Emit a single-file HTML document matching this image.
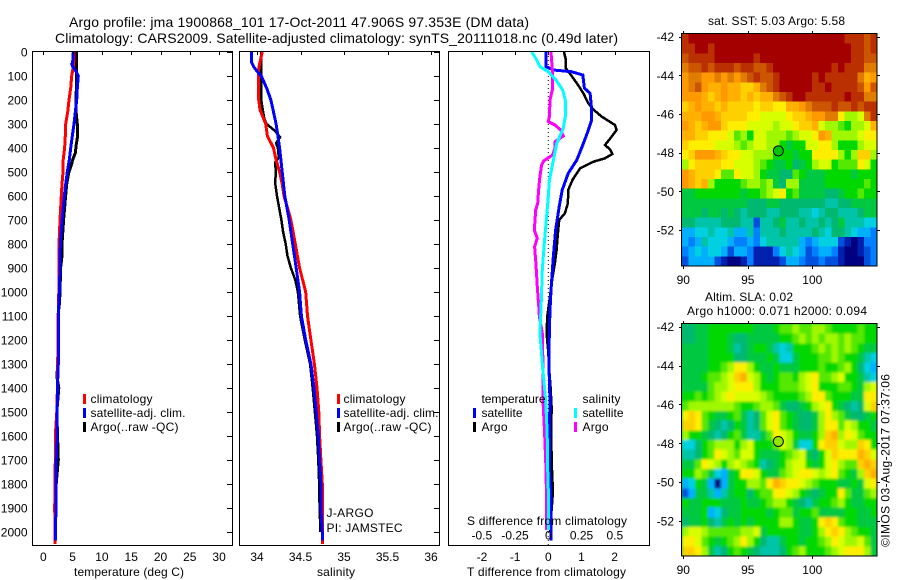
<!DOCTYPE html>
<html>
<head>
<meta charset="utf-8">
<title>Argo profile chart</title>
<style>
html,body{margin:0;padding:0;background:#fff;}
svg{display:block;}
text{font-family:"Liberation Sans",sans-serif;fill:#000;font-size:12px;}
.t14{font-size:14px;}
.mark{fill:none;stroke-width:3;stroke-linejoin:miter;shape-rendering:crispEdges;}
.crisp{shape-rendering:crispEdges;}
</style>
</head>
<body>
<svg id="chart" xmlns="http://www.w3.org/2000/svg" width="900" height="580" viewBox="0 0 900 580">
  <defs>
    <clipPath id="clip-sst"><rect x="682" y="34" width="195" height="232"/></clipPath>
    <clipPath id="clip-sla"><rect x="682" y="324" width="195" height="232"/></clipPath>
    <filter id="soft" x="-5%" y="-5%" width="110%" height="110%"><feGaussianBlur stdDeviation="1.4"/></filter>
  </defs>
  <rect x="0" y="0" width="900" height="580" fill="#fff"/>

  <text class="t14" x="69" y="27" textLength="460">Argo profile: jma 1900868_101 17-Oct-2011 47.906S 97.353E (DM data)</text>
  <text class="t14" x="55" y="43" textLength="563">Climatology: CARS2009. Satellite-adjusted climatology: synTS_20111018.nc (0.49d later)</text>

  <g id="marks-layer"></g>
  <g id="axes-layer"></g>
  <g id="maps-layer"></g>

  <text x="74" y="576" textLength="110">temperature (deg C)</text>
  <text x="317" y="576" textLength="38">salinity</text>
  <text x="467" y="576" textLength="159">T difference from climatology</text>
  <text x="467" y="525" textLength="160">S difference from climatology</text>

  <g>
    <rect class="crisp" x="83" y="394" width="3" height="10" fill="#f00"/>
    <text x="90.5" y="403" textLength="62">climatology</text>
    <rect class="crisp" x="83" y="408" width="3" height="10" fill="#00f"/>
    <text x="90.5" y="417" textLength="95">satellite-adj. clim.</text>
    <rect class="crisp" x="83" y="422" width="3" height="10" fill="#000"/>
    <text x="90.5" y="431" textLength="88">Argo(..raw -QC)</text>
  </g>
  <g>
    <rect class="crisp" x="337" y="394" width="3" height="10" fill="#f00"/>
    <text x="343.5" y="403" textLength="62">climatology</text>
    <rect class="crisp" x="337" y="408" width="3" height="10" fill="#00f"/>
    <text x="343.5" y="417" textLength="95">satellite-adj. clim.</text>
    <rect class="crisp" x="337" y="422" width="3" height="10" fill="#000"/>
    <text x="343.5" y="431" textLength="88">Argo(..raw -QC)</text>
  </g>
  <text x="326.5" y="517" textLength="47">J-ARGO</text>
  <text x="326.5" y="532" textLength="76">PI: JAMSTEC</text>

  <g>
    <text x="481.5" y="403" textLength="64">temperature</text>
    <rect class="crisp" x="473" y="408" width="3" height="10" fill="#00f"/>
    <text x="481.5" y="417" textLength="41">satellite</text>
    <rect class="crisp" x="473" y="422" width="3" height="10" fill="#000"/>
    <text x="481.5" y="431" textLength="26">Argo</text>
    <text x="582.5" y="403" textLength="38">salinity</text>
    <rect class="crisp" x="574" y="408" width="3" height="10" fill="#0ff"/>
    <text x="582.5" y="417" textLength="41">satellite</text>
    <rect class="crisp" x="574" y="422" width="3" height="10" fill="#f0f"/>
    <text x="582.5" y="431" textLength="26">Argo</text>
  </g>

  <text x="708" y="25" textLength="137">sat. SST: 5.03 Argo: 5.58</text>
  <text x="705" y="301" textLength="88">Altim. SLA: 0.02</text>
  <text x="687" y="315" textLength="180">Argo h1000: 0.071 h2000: 0.094</text>
  <text transform="translate(889.5,547) rotate(-90)" x="0" y="0" textLength="173">©IMOS 03-Aug-2017 07:37:06</text>
</svg>

<script>
// Depth axis
const depthTicks = [0,100,200,300,400,500,600,700,800,900,1000,1100,1200,1300,1400,1500,1600,1700,1800,1900,2000];

// Bottom axis ticks
const tempTicks = [0,5,10,15,20,25,30];
const salTicks = [34,34.5,35,35.5,36];
const salTickLabels = ["34","34.5","35","35.5","36"];
const tDiffTicks = [-2,-1,0,1,2];
const sDiffTicks = [-0.5,-0.25,0,0.25,0.5];
const sDiffTickLabels = ["-0.5","-0.25","0","0.25","0.5"];

// Temperature profiles
const tempClimDepth = [0,50,100,150,200,250,300,350,400,450,500,550,600,700,800,900,1000,1100,1200,1300,1400,1500,1600,1700,1800,1900,2000,2050];
const tempClimValue = [5.24,5.18,4.84,4.67,4.38,4.16,3.82,3.76,3.64,3.4,3.36,3.19,3.08,2.85,2.68,2.68,2.65,2.55,2.5,2.45,2.4,2.3,2.05,2.05,2.0,1.94,2.0,2.0];
const tempSatDepth = [0,45,50,60,80,100,150,200,250,300,350,400,450,500,550,600,700,800,900,1000,1100,1300,1400,1600,1700,1800,1900,1950,2000,2035];
const tempSatValue = [5.12,5.0,4.85,5.0,5.58,5.97,5.8,5.7,5.46,5.24,4.95,4.67,4.44,4.1,3.82,3.58,3.2,2.9,2.85,2.73,2.56,2.56,2.4,2.34,2.2,2.2,2.2,2.1,2.05,2.05];
const tempArgoDepth = [0,100,200,250,300,350,390,420,450,470,500,550,600,700,800,850,900,1000,1050,1100,1300,1350,1400,1500,1700,1800,2000];
const tempArgoValue = [5.7,5.7,5.58,5.6,5.8,5.85,5.6,5.48,5.0,4.82,4.37,4.0,3.8,3.47,3.19,3.19,2.95,2.85,2.75,2.5,2.5,2.3,2.65,2.3,2.56,2.2,2.0];

// Salinity profiles
const salClimDepth = [0,50,80,100,200,240,300,350,400,450,500,550,600,650,700,800,900,1000,1100,1200,1300,1400,1500,1600,1700,1800,2000,2050];
const salClimValue = [34.06,34.03,34.015,34.015,34.02,34.035,34.10,34.12,34.19,34.22,34.26,34.29,34.31,34.35,34.39,34.44,34.49,34.56,34.58,34.62,34.66,34.69,34.71,34.72,34.735,34.75,34.755,34.755];
const salSatDepth = [0,40,60,80,100,150,200,250,300,350,400,500,600,700,800,900,1000,1100,1200,1300,1400,1500,1600,1700,1800,1900,2000,2035];
const salSatValue = [33.935,33.935,33.96,34.0,34.05,34.11,34.16,34.19,34.22,34.24,34.26,34.29,34.32,34.37,34.41,34.45,34.49,34.51,34.56,34.62,34.655,34.68,34.705,34.72,34.735,34.735,34.75,34.75];
const salArgoDepth = [0,100,200,240,280,300,330,355,380,400,440,460,500,550,600,650,700,750,800,850,900,950,1000,1100,1200,1300,1400,1500,1600,1700,1800,1900,2000];
const salArgoValue = [34.05,34.05,34.05,34.065,34.085,34.11,34.21,34.265,34.22,34.24,34.25,34.21,34.215,34.21,34.23,34.255,34.28,34.30,34.33,34.35,34.39,34.44,34.47,34.495,34.55,34.61,34.64,34.665,34.69,34.705,34.715,34.72,34.73];

// Difference profiles
const tDiffSatDepth = [0,61,75,82,96,151,172,242,283,325,381,450,506,575,644,742,853,992,1075,1172,1311,1450,1589,1728,1867,1992,2035];
const tDiffSatValue = [-0.07,-0.07,0.15,0.70,1.04,1.09,1.26,1.31,1.31,1.21,1.06,0.86,0.60,0.42,0.33,0.22,0.15,0.08,0.05,0.03,0.02,0.05,0.03,0.03,0.08,0.08,0.08];
const tDiffArgoDepth = [0,33,68,89,130,172,214,242,269,304,325,353,388,406,425,443,457,485,533,575,630,672,700,769,825,880,936,1019,1100,1172,1250,1311,1400,1480,1580,1700,1800,1850,2000];
const tDiffArgoValue = [0.47,0.53,0.53,0.65,0.86,1.06,1.21,1.38,1.61,2.01,2.06,1.91,1.71,1.86,1.93,1.71,1.36,0.96,0.73,0.60,0.59,0.50,0.33,0.28,0.25,0.20,0.13,0.05,-0.03,-0.05,0,0.02,0.07,0.10,0.09,0.10,0.13,0.13,0.05];
const sDiffSatDepth = [0,26,61,82,117,158,200,269,318,381,450,533,603,686,797,908,1075,1100,1172,1311,1450,1589,1728,1867,1992];
const sDiffSatValue = [-0.125,-0.095,-0.063,0,0.058,0.108,0.128,0.128,0.113,0.063,0.038,0.008,0,-0.013,-0.03,-0.045,-0.055,-0.058,-0.063,-0.043,-0.02,-0.008,-0.005,0.002,0];
const sDiffArgoDepth = [0,75,158,200,269,290,304,325,350,374,401,429,453,471,519,575,630,658,742,776,811,880,978,1075,1100,1172,1311,1450,1589,1728,1867,1992];
const sDiffArgoValue = [0.02,0.03,0.03,0.013,0.008,0,0.05,0.093,0.113,0.05,0.05,0.033,-0.033,-0.05,-0.063,-0.073,-0.08,-0.095,-0.105,-0.083,-0.103,-0.093,-0.083,-0.07,-0.068,-0.045,-0.04,-0.04,-0.028,-0.018,-0.013,-0.013];

// Map axes
const latTicks = [-42,-44,-46,-48,-50,-52];
const lonTicks = [90,95,100];
const floatLon = [97.353];
const floatLat = [-47.906];

// Map colour scale, low index = warm/high
const mapColors = ["#a50000","#bb3000","#cc5500","#e07c00","#ff9900","#ffb000","#ffd000","#ffee00","#d8ff00","#a0f800","#55e800","#00d800","#00c840","#00b870","#00c4a8","#00d0e0","#00b0ff","#0080ff","#0050e0","#0020b0","#000080"];

// Satellite SST map levels (north to south)
const sstLevels = [
[1,0,0,0,0,0,0,0,0,0,0,0,0,0,0,0,0,0,0,0,0,0,0,0,0,1,1,1,2,1],
[1,1,0,0,1,0,0,0,0,0,0,0,0,0,0,0,0,0,0,0,0,0,0,0,0,0,1,1,2,1],
[2,1,1,1,1,0,0,0,0,0,0,1,0,0,0,0,0,0,0,0,0,0,0,0,0,0,1,1,2,2],
[3,2,2,1,2,1,1,1,2,1,1,2,2,1,0,0,0,0,0,0,0,0,0,1,0,1,1,1,3,3],
[4,3,3,4,4,3,4,3,4,3,2,1,2,2,1,0,0,0,0,0,1,0,1,1,1,1,1,3,5,4],
[4,3,2,4,5,5,4,5,5,6,6,5,3,2,1,0,0,0,0,0,1,1,0,1,1,1,1,2,4,2],
[4,4,4,5,6,5,4,5,5,6,5,6,5,5,3,2,1,0,0,1,1,1,1,1,1,0,1,1,3,3],
[6,5,4,5,5,6,5,6,6,6,6,7,6,6,7,7,5,5,4,3,2,2,2,1,2,2,1,2,1,1],
[5,5,5,4,4,5,6,6,6,6,7,7,8,8,8,8,7,6,6,5,4,4,3,3,7,9,9,8,3,1],
[4,5,6,5,4,4,6,7,7,7,8,8,8,8,9,8,8,7,6,6,5,8,9,9,10,11,9,9,8,5],
[5,5,6,6,7,7,7,8,10,9,11,8,8,9,9,9,10,9,8,8,7,4,5,9,9,9,9,8,7,7],
[6,7,7,7,7,8,8,8,9,10,9,8,8,9,9,11,12,11,11,8,8,7,7,9,11,11,11,9,8,8],
[7,6,4,4,4,5,6,7,7,8,8,9,9,9,11,11,11,12,11,11,7,7,7,7,9,11,9,6,6,9],
[9,7,6,6,6,6,7,7,8,8,8,9,10,11,12,12,11,13,12,11,9,8,8,11,10,10,10,7,8,11],
[4,5,6,6,6,7,10,10,7,8,8,9,11,12,12,13,13,10,11,12,12,12,11,11,11,11,12,11,11,11],
[4,5,6,5,9,11,11,11,11,10,9,9,10,9,12,13,9,9,12,12,12,12,11,11,11,11,11,11,10,11],
[12,12,11,11,11,11,11,11,11,12,11,11,10,9,8,7,11,10,12,12,12,12,13,13,12,11,11,10,11,11],
[12,12,12,12,12,12,12,12,12,12,13,13,13,12,12,13,13,13,13,13,13,13,14,14,13,13,12,12,12,12],
[12,12,12,13,12,12,13,12,13,14,13,13,13,14,14,13,13,13,14,14,15,14,13,13,14,14,14,13,12,12],
[13,13,14,14,14,14,13,13,13,14,14,18,14,14,13,12,14,14,13,14,14,13,14,13,12,14,14,14,15,15],
[16,16,15,15,14,15,15,14,16,16,14,17,14,14,14,13,14,14,14,14,13,14,15,13,13,14,15,16,16,17],
[16,17,16,14,15,15,15,16,17,17,16,17,15,14,14,14,14,14,16,17,16,15,15,15,18,19,20,19,17,17],
[17,16,15,16,15,15,16,18,16,16,17,19,19,19,17,15,14,15,16,18,17,16,16,17,19,20,20,19,18,17],
[18,16,16,16,16,18,19,20,20,19,17,19,19,19,19,18,16,16,17,18,18,17,18,18,19,20,20,20,18,17]
];

// Altimetry SLA map levels (north to south)
const slaLevels = [
[13,13,12,12,11,11,11,11,11,11,11,12,12,12,11,10,10,9,10,10,9,9,10,11,11,11,11,10,11,11],
[13,13,12,12,11,11,11,12,13,13,12,12,12,12,12,11,11,10,9,10,9,10,9,9,10,9,10,10,11,11],
[12,12,12,12,11,11,11,12,14,13,12,11,11,12,14,15,14,11,11,11,10,9,10,9,10,9,10,11,12,12],
[12,12,12,12,11,11,11,11,13,13,12,12,12,11,12,15,15,12,11,11,11,10,10,9,10,11,11,12,14,15],
[12,12,12,12,11,11,10,9,7,7,9,11,12,12,11,12,12,12,11,11,11,10,11,11,10,9,11,13,15,16],
[12,12,12,11,10,10,9,8,6,5,8,9,11,12,11,10,10,11,9,8,7,10,10,9,8,11,11,12,14,15],
[12,12,12,12,10,9,9,8,7,7,7,9,11,11,11,10,10,10,9,8,7,11,11,11,10,10,11,12,9,8],
[11,11,10,11,10,9,8,7,8,8,8,8,9,10,11,11,11,11,10,9,7,7,10,11,11,11,12,12,7,7],
[10,9,9,9,9,9,9,9,10,11,11,10,9,9,10,12,13,13,12,11,9,8,7,11,12,13,14,13,8,6],
[7,6,7,10,11,12,12,11,10,12,14,13,10,8,7,10,11,12,13,13,12,9,7,9,10,12,13,13,12,11],
[6,6,7,10,12,13,14,13,11,12,14,13,10,8,7,10,11,12,13,13,12,9,7,7,10,8,9,11,11,12],
[9,11,11,12,13,14,13,11,10,12,14,14,12,10,7,8,9,11,12,12,11,9,6,5,9,7,8,10,11,11],
[15,15,13,11,10,9,9,9,11,9,8,11,11,11,10,8,9,12,15,15,11,7,6,6,8,9,9,6,7,11],
[14,14,13,11,10,7,8,9,10,8,8,11,12,12,12,11,10,9,8,12,13,11,8,6,7,7,7,5,6,8],
[12,12,10,7,8,9,11,9,8,9,10,11,14,13,12,11,9,8,8,11,12,11,8,7,9,10,10,6,5,6],
[11,11,9,10,12,15,16,12,11,7,7,8,11,12,12,10,9,8,7,7,8,9,8,7,10,11,12,9,6,5],
[16,15,11,12,16,20,16,12,11,11,9,9,10,7,5,6,7,7,8,9,10,11,11,11,12,12,11,12,8,7],
[18,16,12,12,14,16,14,12,11,11,13,11,10,10,7,7,8,9,11,12,13,12,11,11,7,10,12,12,10,9],
[11,12,12,11,11,11,12,12,12,11,12,12,11,10,9,9,11,12,13,14,12,11,11,10,9,11,12,12,11,11],
[12,12,12,11,16,15,13,12,12,11,11,11,11,12,11,10,10,12,11,11,10,12,12,12,12,11,11,12,12,11],
[13,12,12,11,13,14,12,11,12,11,12,11,11,11,11,9,9,11,12,12,11,7,6,7,10,11,11,12,12,12],
[9,8,8,9,10,10,10,10,10,9,9,8,12,11,11,11,11,11,12,12,11,9,7,6,7,9,10,11,11,12],
[7,7,8,10,11,12,11,10,9,7,9,11,13,14,14,12,11,11,12,11,11,10,9,7,8,9,9,8,10,12],
[6,6,7,9,12,14,13,11,10,11,12,13,14,14,14,13,11,10,9,11,11,11,10,9,8,7,7,7,9,12]
];

const SVGNS = "http://www.w3.org/2000/svg";
const marksLayer = document.getElementById("marks-layer");
const axesLayer = document.getElementById("axes-layer");
const mapsLayer = document.getElementById("maps-layer");

function makeEl(tag, attrs, parent) {
  const node = document.createElementNS(SVGNS, tag);
  for (const k in attrs) node.setAttribute(k, attrs[k]);
  parent.appendChild(node);
  return node;
}

// Axis functions
const depthY = d => 52 + d * 0.24;
const tempX = v => 43.3 + v * 5.86;
const salX = v => 257 + (v - 34) * 87;
const tDiffX = v => 548.3 + v * 33.15;
const sDiffX = v => 548.3 + v * 133;
const lonX = v => 683.3 + (v - 90) * 12.9;
const sstLatY = v => 36.7 + (-42 - v) * 19.33;
const slaLatY = v => 326.7 + (-42 - v) * 19.43;

function drawProfile(name, xFn, depths, values, color, width) {
  const pts = depths.map((d, i) => xFn(values[i]).toFixed(1) + "," + depthY(d).toFixed(1)).join(" ");
  const el = makeEl("polyline", {points: pts, stroke: color, class: "mark", style: "stroke-width:" + (width || 3)}, marksLayer);
  
  
}

function drawPanelFrame(name, left, right) {
  const el = makeEl("rect", {x: left + 0.5, y: 51.5, width: right - left, height: 494, fill: "none", stroke: "#000", "stroke-width": 1, class: "crisp"}, axesLayer);
  
  
}

function drawTopTicks(name, xFn, ticks) {
  ticks.forEach(t => {
    const px = Math.round(xFn(t)) + 0.5;
    const el = makeEl("line", {x1: px, x2: px, y1: 52, y2: 55, stroke: "#000", class: "crisp"}, axesLayer);
    
    
  });
}

function drawRightTicks(name, right) {
  depthTicks.forEach(d => {
    const py = Math.round(depthY(d)) + 0.5;
    const el = makeEl("line", {x1: right - 5, x2: right, y1: py, y2: py, stroke: "#000", class: "crisp"}, axesLayer);
    
    
  });
}

function drawBottomLabels(name, xFn, ticks, labels, baseline, layer) {
  ticks.forEach((t, i) => {
    const el = makeEl("text", {x: xFn(t), y: baseline, "text-anchor": "middle"}, layer);
    
    
    el.textContent = labels ? labels[i] : String(t);
  });
}

// Zero line of the difference panel
const zeroLine = makeEl("line", {x1: tDiffX(0), x2: tDiffX(0), y1: 52, y2: 545, stroke: "#000", "stroke-width": 1, "stroke-dasharray": "1 3"}, marksLayer);



// Series
drawProfile('temperature-argo-line', tempX, tempArgoDepth, tempArgoValue, "#000");
drawProfile('temperature-climatology-line', tempX, tempClimDepth, tempClimValue, "#f00");
drawProfile('temperature-satellite-line', tempX, tempSatDepth, tempSatValue, "#00f");
drawProfile('salinity-argo-line', salX, salArgoDepth, salArgoValue, "#000", 2.5);
drawProfile('salinity-climatology-line', salX, salClimDepth, salClimValue, "#f00");
drawProfile('salinity-satellite-line', salX, salSatDepth, salSatValue, "#00f");
drawProfile('t-difference-argo-line', tDiffX, tDiffArgoDepth, tDiffArgoValue, "#000", 2.5);
drawProfile('t-difference-satellite-line', tDiffX, tDiffSatDepth, tDiffSatValue, "#00f");
drawProfile('s-difference-argo-line', sDiffX, sDiffArgoDepth, sDiffArgoValue, "#f0f");
drawProfile('s-difference-satellite-line', sDiffX, sDiffSatDepth, sDiffSatValue, "#0ff");

// Frames and ticks
drawPanelFrame('temperature-plot-frame', 32, 232);
drawPanelFrame('salinity-plot-frame', 239, 439);
drawPanelFrame('difference-plot-frame', 448, 649);
drawTopTicks('temperature-top-tick', tempX, tempTicks);
drawTopTicks('salinity-top-tick', salX, salTicks);
drawTopTicks('difference-top-tick', tDiffX, tDiffTicks);
drawRightTicks('temperature-depth-tick', 232);
drawRightTicks('salinity-depth-tick', 439);

// Depth labels
depthTicks.forEach(d => {
  const el = makeEl("text", {x: 27.5, y: depthY(d) + 4.5, "text-anchor": "end"}, axesLayer);
  
  
  el.textContent = String(d);
});

// Bottom labels
drawBottomLabels('temperature-tick-label', tempX, tempTicks, null, 561, axesLayer);
drawBottomLabels('salinity-tick-label', salX, salTicks, salTickLabels, 561, axesLayer);
drawBottomLabels('t-difference-tick-label', tDiffX, tDiffTicks, null, 561, axesLayer);
drawBottomLabels('s-difference-tick-label', sDiffX, sDiffTicks, sDiffTickLabels, 539.5, axesLayer);

// Maps
function drawMap(name, levels, top, latY, clipId, soft, labelBaseline, circleFill) {
  const clipGroup = makeEl("g", {"clip-path": "url(#" + clipId + ")"}, mapsLayer);
  
  
  const base = makeEl("rect", {x: 682, y: top, width: 195, height: 232, fill: mapColors[12]}, clipGroup);
  
  
  const cells = makeEl("g", soft ? {filter: "url(#soft)"} : {}, clipGroup);
  
  
  const rowH = 232 / levels.length;
  levels.forEach((row, r) => {
    const colW = 195 / row.length;
    row.forEach((lv, c) => {
      const cell = makeEl("rect", {x: 682 + c * colW, y: top + r * rowH, width: colW + 0.5, height: rowH + 0.5, fill: mapColors[Math.max(0, Math.min(mapColors.length - 1, Math.round(lv)))], class: "crisp"}, cells);
      
      
    });
  });
  const frame = makeEl("rect", {x: 681.5, y: top - 0.5, width: 195.5, height: 232.5, fill: "none", stroke: "#000", class: "crisp"}, mapsLayer);
  
  
  latTicks.forEach(lat => {
    const py = Math.round(latY(lat)) + 0.5;
    const tickL = makeEl("line", {x1: 679, x2: 682, y1: py, y2: py, stroke: "#000", class: "crisp"}, mapsLayer);
    
    
    const tickR = makeEl("line", {x1: 877, x2: 880, y1: py, y2: py, stroke: "#000", class: "crisp"}, mapsLayer);
    
    
    const label = makeEl("text", {x: 674, y: latY(lat) + 4.5, "text-anchor": "end"}, mapsLayer);
    
    
    label.textContent = String(lat);
  });
  lonTicks.forEach(lon => {
    const px = Math.round(lonX(lon)) + 0.5;
    const tickT = makeEl("line", {x1: px, x2: px, y1: top - 3, y2: top, stroke: "#000", class: "crisp"}, mapsLayer);
    
    
    const tickB = makeEl("line", {x1: px, x2: px, y1: top + 232, y2: top + 235, stroke: "#000", class: "crisp"}, mapsLayer);
    
    
    const label = makeEl("text", {x: lonX(lon), y: labelBaseline, "text-anchor": "middle"}, mapsLayer);
    
    
    label.textContent = String(lon);
  });
  const marker = makeEl("circle", {cx: lonX(floatLon[0]) + 0.2, cy: latY(floatLat[0]), r: 5, fill: circleFill, stroke: "#000", "stroke-width": 1}, mapsLayer);
  
  
}

drawMap('sst-map', sstLevels, 34, sstLatY, 'clip-sst', false, 284, '#00c800');
drawMap('sla-map', slaLevels, 324, slaLatY, 'clip-sla', true, 574, '#90e800');
</script>
</body>
</html>
